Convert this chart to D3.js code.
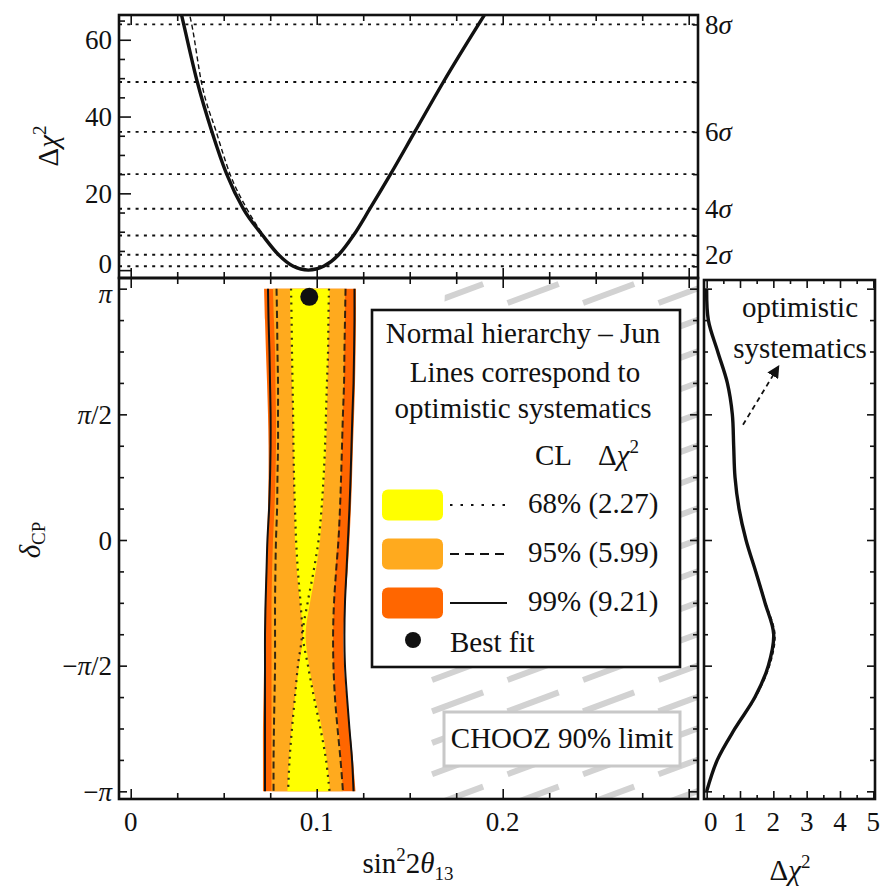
<!DOCTYPE html>
<html>
<head>
<meta charset="utf-8">
<script src="https://cdn.jsdelivr.net/npm/d3@7/dist/d3.min.js"></script>
<style>
  html, body { margin: 0; padding: 0; background: #fff; }
  svg { display: block; font-family: 'Liberation Serif', 'Times New Roman', serif; }
</style>
</head>
<body>
<svg id="chart" width="881" height="887"></svg>
<script>
// ---------------- data ----------------
// δ_CP grid (rad), from +π down to −π in steps of π/8
const deltaGrid = [3.1416, 2.7489, 2.3562, 1.9635, 1.5708, 1.1781, 0.7854, 0.3927, 0,
                   -0.3927, -0.7854, -1.1781, -1.5708, -1.9635, -2.3562, -2.7489, -3.1416];

// allowed regions, nominal systematics: left / right edge in sin²2θ13
const cl99Left  = [0.0717, 0.0722, 0.0727, 0.0733, 0.0738, 0.0741, 0.0741, 0.0738, 0.0733, 0.0727, 0.0722, 0.0719, 0.0717, 0.0714, 0.0711, 0.0711, 0.0711];
const cl99Right = [0.1211, 0.1211, 0.1209, 0.1206, 0.1201, 0.1195, 0.1190, 0.1184, 0.1176, 0.1166, 0.1152, 0.1144, 0.1147, 0.1160, 0.1179, 0.1195, 0.1209];
const cl95Left  = [0.0765, 0.0770, 0.0776, 0.0778, 0.0781, 0.0781, 0.0778, 0.0773, 0.0765, 0.0760, 0.0757, 0.0757, 0.0757, 0.0757, 0.0757, 0.0757, 0.0757];
const cl95Right = [0.1152, 0.1152, 0.1149, 0.1147, 0.1141, 0.1136, 0.1131, 0.1123, 0.1112, 0.1101, 0.1093, 0.1088, 0.1090, 0.1101, 0.1117, 0.1131, 0.1141];
const cl68Left  = [0.0856, 0.0859, 0.0862, 0.0867, 0.0873, 0.0875, 0.0878, 0.0881, 0.0883, 0.0894, 0.0910, 0.0926, 0.0905, 0.0883, 0.0865, 0.0851, 0.0843];
const cl68Right = [0.1069, 0.1066, 0.1061, 0.1058, 0.1055, 0.1050, 0.1042, 0.1031, 0.1018, 0.0994, 0.0964, 0.0940, 0.0959, 0.0991, 0.1028, 0.1055, 0.1072];

// contours with optimistic systematics
const opt99Left  = [0.0738, 0.0741, 0.0746, 0.0749, 0.0752, 0.0752, 0.0749, 0.0744, 0.0735, 0.0730, 0.0725, 0.0722, 0.0722, 0.0722, 0.0722, 0.0722, 0.0722];
const opt99Right = [0.1203, 0.1203, 0.1201, 0.1198, 0.1192, 0.1187, 0.1182, 0.1176, 0.1168, 0.1160, 0.1152, 0.1149, 0.1152, 0.1163, 0.1176, 0.1190, 0.1198];
const opt95Left  = [0.0784, 0.0787, 0.0789, 0.0792, 0.0792, 0.0792, 0.0789, 0.0787, 0.0781, 0.0778, 0.0776, 0.0776, 0.0776, 0.0773, 0.0770, 0.0768, 0.0768];
const opt95Right = [0.1155, 0.1152, 0.1149, 0.1147, 0.1141, 0.1136, 0.1131, 0.1125, 0.1117, 0.1104, 0.1093, 0.1088, 0.1090, 0.1098, 0.1112, 0.1128, 0.1141];
const opt68Left  = [0.0862, 0.0865, 0.0867, 0.0870, 0.0873, 0.0875, 0.0878, 0.0883, 0.0889, 0.0899, 0.0913, 0.0921, 0.0899, 0.0883, 0.0867, 0.0854, 0.0846];
const opt68Right = [0.1066, 0.1063, 0.1061, 0.1055, 0.1050, 0.1045, 0.1037, 0.1026, 0.1010, 0.0983, 0.0951, 0.0926, 0.0953, 0.0985, 0.1020, 0.1050, 0.1069];

// best fit point [sin²2θ13, δ_CP]
const bestFit = [0.096, 3.04];

// Δχ² profile in sin²2θ13 (top panel)
const profSin    = [0.0265, 0.0285, 0.0358, 0.0437, 0.0516, 0.0605, 0.0710, 0.0795, 0.0874, 0.0955, 0.1037, 0.1118, 0.1197, 0.1286, 0.1397, 0.1527, 0.1681, 0.1870, 0.1940];
const profChi    = [68.2, 64, 49, 36, 25, 16, 9, 4, 1, 0, 1, 4, 9, 16, 25, 36, 49, 64, 69.4];
const profOptSin = [0.0310, 0.0328, 0.0380, 0.0460, 0.0534, 0.0624, 0.0715, 0.0797, 0.0875, 0.0955, 0.1037, 0.1118, 0.1197, 0.1286, 0.1397, 0.1527, 0.1681, 0.1870, 0.1940];
const profOptChi = [68.0, 64, 49, 36, 25, 16, 9, 4, 1, 0, 1, 4, 9, 16, 25, 36, 49, 64, 69.4];

// Δχ² profile in δ_CP (side panel), on deltaGrid
const sideChi    = [0, 0.05, 0.33, 0.62, 0.77, 0.81, 0.85, 0.97, 1.18, 1.47, 1.75, 2.01, 1.85, 1.45, 0.85, 0.32, 0];
const sideOptChi = [0, 0.05, 0.33, 0.62, 0.77, 0.81, 0.85, 0.97, 1.18, 1.48, 1.77, 2.05, 1.89, 1.47, 0.86, 0.32, 0];

// n-sigma reference lines: Δχ² = n²
const sigmaN      = [1, 2, 3, 4, 5, 6, 7, 8];
const sigmaLabelN = [2, 4, 6, 8];

// CHOOZ 90% exclusion edge (sin²2θ13 at δ_CP = −π and +π)
const choozDelta = [-3.1416, 3.1416];
const choozSin   = [0.158, 0.169];

// legend entries
const clNames  = ["68%", "95%", "99%"];
const clChi2   = ["2.27", "5.99", "9.21"];
const clFills  = ["#FFFF00", "#FFAA1E", "#FF6600"];
const clDashes = ["2.5 8", "9 6", null];

// ticks
const sinMajor = [0, 0.1, 0.2, 0.3];
const sinMinor = [0.025, 0.05, 0.075, 0.125, 0.15, 0.175, 0.225, 0.25, 0.275];
const sinLabels = ["0", "0.1", "0.2"];
const chiMajor = [0, 20, 40, 60];
const chiMinor = [5, 10, 15, 25, 30, 35, 45, 50, 55, 65];
const chiLabels = ["0", "20", "40", "60"];
const deltaMajor = [-3.1416, -1.5708, 0, 1.5708, 3.1416];
const deltaMinor = [-2.7489, -2.3562, -1.9635, -1.1781, -0.7854, -0.3927, 0.3927, 0.7854, 1.1781, 1.9635, 2.3562, 2.7489];
const deltaLabels = ["−π", "−π/2", "0", "π/2", "π"];
const sideMajor = [0, 1, 2, 3, 4, 5];
const sideMinor = [0.5, 1.5, 2.5, 3.5, 4.5];
const sideLabels = ["0", "1", "2", "3", "4", "5"];

// ---------------- layout ----------------
const INK = "#111";
const FS = 27;       // tick labels
const FL = 29;       // other text
const topP  = { l: 119, r: 698, t: 15,  b: 278 };
const mainP = { l: 119, r: 698, t: 278, b: 799 };
const sideP = { l: 704, r: 875, t: 280, b: 799 };

const xS   = d3.scaleLinear().domain([-0.0063, 0.305]).range([mainP.l, mainP.r]);
const yChi = d3.scaleLinear().domain([-2.05, 66.45]).range([topP.b, topP.t]);
const yD   = d3.scaleLinear().domain([-3.2375, 3.275]).range([mainP.b, mainP.t]);
const xR   = d3.scaleLinear().domain([-0.08, 5.05]).range([sideP.l, sideP.r]);

const svg = d3.select("#chart");
const defs = svg.append("defs");

function clipRect(id, p) {
  defs.append("clipPath").attr("id", id).append("rect")
    .attr("x", p.l).attr("y", p.t).attr("width", p.r - p.l).attr("height", p.b - p.t);
}
clipRect("clip-top", topP);
clipRect("clip-main", mainP);
clipRect("clip-side", sideP);

// tick helper built on d3 axes (ticks point into the frame)
function tickSet(axisFn, scale, values, size, tx, ty) {
  const g = svg.append("g").attr("transform", `translate(${tx},${ty})`)
    .call(axisFn(scale).tickValues(values).tickSize(size).tickFormat(""));
  g.select(".domain").remove();
  g.selectAll(".tick line").attr("stroke", INK).attr("stroke-width", 1.6);
}
function frame(p) {
  svg.append("rect").attr("x", p.l).attr("y", p.t).attr("width", p.r - p.l).attr("height", p.b - p.t)
    .attr("fill", "none").attr("stroke", INK).attr("stroke-width", 2.6);
}

// ---------------- top panel: Δχ² vs sin²2θ13 ----------------
const gTop = svg.append("g").attr("clip-path", "url(#clip-top)");
gTop.selectAll("line.sigma").data(sigmaN).join("line")
  .attr("class", "sigma")
  .attr("x1", topP.l).attr("x2", topP.r)
  .attr("y1", n => yChi(n * n)).attr("y2", n => yChi(n * n))
  .attr("stroke", INK).attr("stroke-width", 1.9).attr("stroke-dasharray", "3 5.3");

const profLine = d3.line().x(d => xS(d[0])).y(d => yChi(d[1])).curve(d3.curveMonotoneX);
gTop.append("path").datum(d3.zip(profOptSin, profOptChi))
  .attr("d", profLine).attr("fill", "none").attr("stroke", INK)
  .attr("stroke-width", 1.4).attr("stroke-dasharray", "5 3");
gTop.append("path").datum(d3.zip(profSin, profChi))
  .attr("d", profLine).attr("fill", "none").attr("stroke", INK).attr("stroke-width", 3.4);

// ---------------- main panel: allowed regions ----------------
const gMain = svg.append("g").attr("clip-path", "url(#clip-main)");

// CHOOZ excluded region, drawn as a gray hatch
const choozEdge = d3.scaleLinear().domain(choozDelta).range(choozSin);
const dTop = yD.invert(mainP.t), dBot = yD.invert(mainP.b);
defs.append("clipPath").attr("id", "clip-chooz").append("polygon")
  .attr("points", [
    [xS(choozEdge(dTop)), mainP.t], [mainP.r, mainP.t],
    [mainP.r, mainP.b], [xS(choozEdge(dBot)), mainP.b]
  ].map(p => p.join(",")).join(" "));

const hatchTopDelta = 2.9625, hatchStepDelta = 0.3927, hatchRise = 0.2375;
const hatchStartSin = 0.162, hatchPeriodSin = 0.0406, hatchLenSin = 0.0275;
const hatchSegs = [];
for (let r = -1; r <= 17; r++) {
  const d0 = hatchTopDelta - r * hatchStepDelta;
  for (let j = -1; j <= 4; j++) {
    const s0 = hatchStartSin + j * hatchPeriodSin;
    hatchSegs.push([[s0, d0], [s0 + hatchLenSin, d0 + hatchRise]]);
  }
}
gMain.append("g").attr("clip-path", "url(#clip-chooz)")
  .selectAll("line").data(hatchSegs).join("line")
  .attr("x1", d => xS(d[0][0])).attr("y1", d => yD(d[0][1]))
  .attr("x2", d => xS(d[1][0])).attr("y2", d => yD(d[1][1]))
  .attr("stroke", "#d2d2d2").attr("stroke-width", 6);

// filled confidence regions
const band = d3.area()
  .y(d => yD(d[0])).x0(d => xS(d[1])).x1(d => xS(d[2]))
  .curve(d3.curveCatmullRom.alpha(0.5));
[[cl99Left, cl99Right, clFills[2]], [cl95Left, cl95Right, clFills[1]], [cl68Left, cl68Right, clFills[0]]]
  .forEach(([L, R, c]) => {
    gMain.append("path").datum(d3.zip(deltaGrid, L, R)).attr("d", band).attr("fill", c);
  });

// optimistic-systematics contours
const edge = d3.line().x(d => xS(d[1])).y(d => yD(d[0])).curve(d3.curveCatmullRom.alpha(0.5));
[[opt99Left, opt99Right, null, 2.0], [opt95Left, opt95Right, "7 4", 2.0], [opt68Left, opt68Right, "2 5", 2.2]]
  .forEach(([L, R, dash, w]) => {
    [L, R].forEach(side => {
      gMain.append("path").datum(d3.zip(deltaGrid, side)).attr("d", edge)
        .attr("fill", "none").attr("stroke", INK).attr("stroke-width", w)
        .attr("stroke-dasharray", dash).attr("stroke-opacity", dash ? 0.85 : 1);
    });
  });

gMain.append("circle").attr("cx", xS(bestFit[0])).attr("cy", yD(bestFit[1])).attr("r", 9).attr("fill", INK);

// ---------------- side panel: Δχ² vs δ_CP ----------------
const gSide = svg.append("g").attr("clip-path", "url(#clip-side)");
const sideLine = d3.line().x(d => xR(d[1])).y(d => yD(d[0])).curve(d3.curveCatmullRom.alpha(0.5));
gSide.append("path").datum(d3.zip(deltaGrid, sideChi)).attr("d", sideLine)
  .attr("fill", "none").attr("stroke", INK).attr("stroke-width", 3.4);
gSide.append("path").datum(d3.zip(deltaGrid, sideOptChi)).attr("d", sideLine)
  .attr("fill", "none").attr("stroke", INK).attr("stroke-width", 1.3).attr("stroke-dasharray", "4 3");

// ---------------- legend ----------------
const lg = svg.append("g");
lg.append("rect").attr("x", 372).attr("y", 310).attr("width", 308).attr("height", 357)
  .attr("fill", "#fff").attr("stroke", INK).attr("stroke-width", 2.6);
const lgText = (x, y, anchor) => lg.append("text").attr("x", x).attr("y", y)
  .attr("text-anchor", anchor).attr("font-size", FL).attr("fill", INK);
lgText(523, 343, "middle").text("Normal hierarchy – Jun");
lgText(525, 382, "middle").text("Lines correspond to");
lgText(523, 418, "middle").text("optimistic systematics");
lgText(535, 465, "start").text("CL");
const dc = lgText(598, 465, "start");
dc.append("tspan").text("Δ");
dc.append("tspan").attr("font-style", "italic").text("χ");
dc.append("tspan").attr("font-size", 19).attr("dy", -12).text("2");

clNames.forEach((name, i) => {
  const cy = 505 + i * 49;
  lg.append("rect").attr("x", 382).attr("y", cy - 15.5).attr("width", 61).attr("height", 31)
    .attr("rx", 6).attr("fill", clFills[i]);
  lg.append("line").attr("x1", 450).attr("x2", 507).attr("y1", cy).attr("y2", cy)
    .attr("stroke", INK).attr("stroke-width", 1.8).attr("stroke-dasharray", clDashes[i]);
  lgText(528, cy + 8, "start").text(`${name} (${clChi2[i]})`);
});
lg.append("circle").attr("cx", 413).attr("cy", 640).attr("r", 8).attr("fill", INK);
lgText(450, 652, "start").text("Best fit");

// CHOOZ label
svg.append("rect").attr("x", 444).attr("y", 712).attr("width", 236).attr("height", 54)
  .attr("fill", "#fff").attr("stroke", "#c8c8c8").attr("stroke-width", 3);
svg.append("text").attr("x", 562).attr("y", 748).attr("text-anchor", "middle")
  .attr("font-size", FL).attr("fill", INK).text("CHOOZ 90% limit");

// side annotation with arrow
defs.append("marker").attr("id", "arrowhead").attr("viewBox", "0 0 10 10")
  .attr("refX", 8).attr("refY", 5).attr("markerWidth", 7).attr("markerHeight", 7)
  .attr("orient", "auto").append("path").attr("d", "M0,0 L10,5 L0,10 Z").attr("fill", INK);
svg.append("line")
  .attr("x1", xR(1.09)).attr("y1", yD(1.44)).attr("x2", xR(2.14)).attr("y2", yD(2.16))
  .attr("stroke", INK).attr("stroke-width", 1.8).attr("stroke-dasharray", "5 4")
  .attr("marker-end", "url(#arrowhead)");
svg.append("text").attr("x", xR(2.8)).attr("y", yD(2.79)).attr("text-anchor", "middle")
  .attr("font-size", FL).attr("fill", INK).text("optimistic");
svg.append("text").attr("x", xR(2.8)).attr("y", yD(2.27)).attr("text-anchor", "middle")
  .attr("font-size", FL).attr("fill", INK).text("systematics");

// ---------------- frames and ticks ----------------
frame(topP); frame(mainP); frame(sideP);

// top panel
tickSet(d3.axisRight, yChi, chiMajor, 12, topP.l, 0);
tickSet(d3.axisRight, yChi, chiMinor, 6, topP.l, 0);
tickSet(d3.axisLeft, yChi, sigmaN.map(n => n * n), 5, topP.r, 0);
tickSet(d3.axisBottom, xS, sinMajor, 10, 0, topP.t);
tickSet(d3.axisBottom, xS, sinMinor, 6, 0, topP.t);
tickSet(d3.axisTop, xS, sinMajor, 10, 0, topP.b);
tickSet(d3.axisTop, xS, sinMinor, 6, 0, topP.b);

// main panel
tickSet(d3.axisBottom, xS, sinMajor, 10, 0, mainP.t);
tickSet(d3.axisBottom, xS, sinMinor, 6, 0, mainP.t);
tickSet(d3.axisTop, xS, sinMajor, 10, 0, mainP.b);
tickSet(d3.axisTop, xS, sinMinor, 6, 0, mainP.b);
tickSet(d3.axisRight, yD, deltaMajor, 8, mainP.l, 0);
tickSet(d3.axisRight, yD, deltaMinor, 5, mainP.l, 0);
tickSet(d3.axisLeft, yD, deltaMajor, 8, mainP.r, 0);
tickSet(d3.axisLeft, yD, deltaMinor, 5, mainP.r, 0);

// side panel
tickSet(d3.axisTop, xR, sideMajor, 8, 0, sideP.b);
tickSet(d3.axisTop, xR, sideMinor, 4, 0, sideP.b);
tickSet(d3.axisBottom, xR, sideMajor, 8, 0, sideP.t);
tickSet(d3.axisBottom, xR, sideMinor, 4, 0, sideP.t);
tickSet(d3.axisRight, yD, deltaMajor, 8, sideP.l, 0);
tickSet(d3.axisRight, yD, deltaMinor, 4, sideP.l, 0);
tickSet(d3.axisLeft, yD, deltaMajor, 8, sideP.r, 0);
tickSet(d3.axisLeft, yD, deltaMinor, 5, sideP.r, 0);

// ---------------- tick labels ----------------
const lab = svg.append("g").attr("font-size", FS).attr("fill", INK);
chiMajor.forEach((v, i) => {
  // the lowest label sits a little higher so it clears the π label below it
  lab.append("text").attr("x", topP.l - 7).attr("y", yChi(v) + (i === 0 ? 3 : 9.5))
    .attr("text-anchor", "end").text(chiLabels[i]);
});
sigmaLabelN.forEach(n => {
  const t = lab.append("text").attr("x", topP.r + 7).attr("y", yChi(n * n) + 9.5);
  t.append("tspan").text(n);
  t.append("tspan").attr("font-style", "italic").text("σ");
});
sinLabels.forEach((s, i) => {
  lab.append("text").attr("x", xS(sinMajor[i])).attr("y", 831)
    .attr("text-anchor", "middle").text(s);
});
sideLabels.forEach((s, i) => {
  lab.append("text").attr("x", xR(sideMajor[i]) + (i === 0 ? 4 : 0)).attr("y", 831)
    .attr("text-anchor", "middle").text(s);
});
deltaMajor.forEach((v, i) => {
  const t = lab.append("text").attr("x", mainP.l - 7).attr("y", yD(v) + (i === 4 ? 14.5 : 9.5)).attr("text-anchor", "end");
  deltaLabels[i].split(/(π)/).filter(p => p.length).forEach(p => {
    t.append("tspan").attr("font-style", p === "π" ? "italic" : null).text(p);
  });
});

// ---------------- axis titles ----------------
const tTopY = svg.append("text").attr("transform", "translate(58,146) rotate(-90)")
  .attr("text-anchor", "middle").attr("font-size", FL).attr("fill", INK);
tTopY.append("tspan").text("Δ");
tTopY.append("tspan").attr("font-style", "italic").text("χ");
tTopY.append("tspan").attr("font-size", 19).attr("dy", -12).text("2");

const tD = svg.append("text").attr("transform", "translate(40,540) rotate(-90)")
  .attr("text-anchor", "middle").attr("font-size", FL).attr("fill", INK);
tD.append("tspan").attr("font-style", "italic").text("δ");
tD.append("tspan").attr("font-size", 19).attr("dy", 5).text("CP");

const tX = svg.append("text").attr("x", 408).attr("y", 873).attr("text-anchor", "middle")
  .attr("font-size", FL).attr("fill", INK);
tX.append("tspan").text("sin");
tX.append("tspan").attr("font-size", 19).attr("dy", -12).text("2");
tX.append("tspan").attr("dy", 12).text("2");
tX.append("tspan").attr("font-style", "italic").text("θ");
tX.append("tspan").attr("font-size", 19).attr("dy", 7).text("13");

const tR = svg.append("text").attr("x", 790).attr("y", 880).attr("text-anchor", "middle")
  .attr("font-size", FL).attr("fill", INK);
tR.append("tspan").text("Δ");
tR.append("tspan").attr("font-style", "italic").text("χ");
tR.append("tspan").attr("font-size", 19).attr("dy", -12).text("2");
</script>
</body>
</html>
